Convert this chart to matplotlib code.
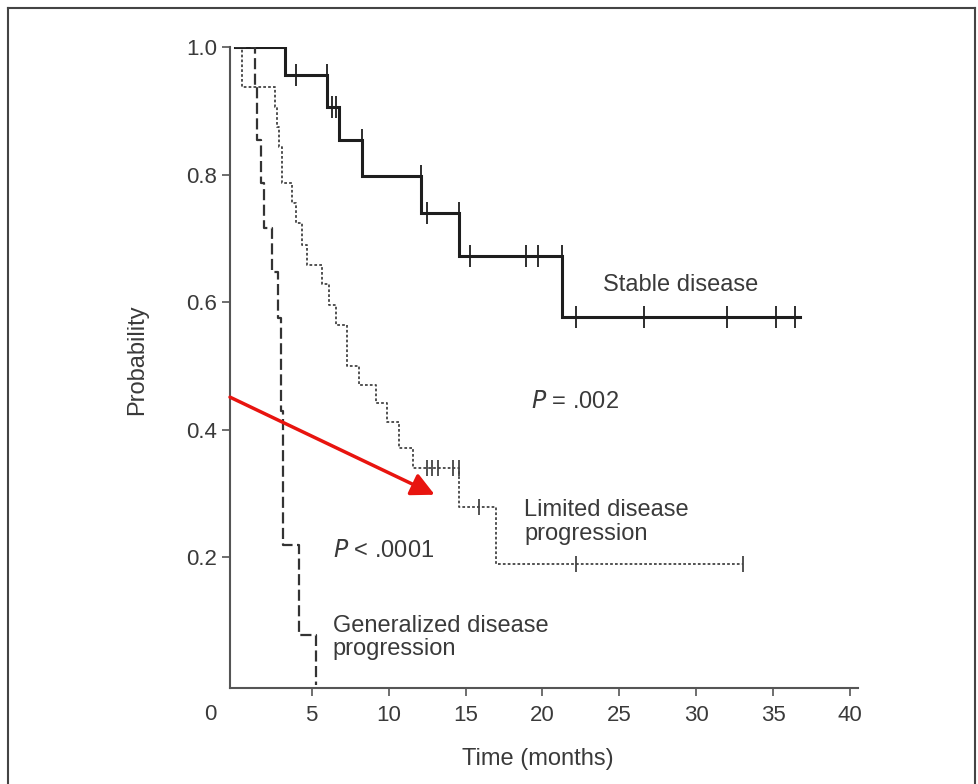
import numpy as np
import matplotlib
matplotlib.use("Agg")
import matplotlib.pyplot as plt
from matplotlib.lines import Line2D

# Kaplan-Meier step data (time in months, survival probability)
stable_t = [0, 3.3, 6.0, 6.8, 8.3, 12.1, 14.6, 21.3]
stable_s = [1.0, 0.956, 0.906, 0.854, 0.798, 0.740, 0.672, 0.577]
stable_end = 36.7
stable_censor = [3.3, 4.0, 6.0, 6.3, 6.6, 8.3, 12.1, 12.5, 14.6, 15.3, 18.9, 19.7,
                 21.3, 22.2, 26.6, 32.0, 35.2, 36.4]

limited_t = [0, 0.45, 2.6, 2.75, 2.9, 3.1, 3.7, 4.0, 4.4, 4.7, 5.7, 6.1, 6.6, 7.3,
             8.1, 9.2, 9.9, 10.7, 11.6, 14.6, 17.0]
limited_s = [1.0, 0.937, 0.906, 0.874, 0.843, 0.787, 0.756, 0.724, 0.69, 0.658,
             0.629, 0.596, 0.564, 0.50, 0.47, 0.442, 0.412, 0.371, 0.34, 0.279, 0.19]
limited_end = 33.0
limited_censor = [12.5, 12.8, 13.2, 14.2, 14.6, 15.9, 22.2, 33.0]

general_t = [0, 1.3, 1.45, 1.7, 1.9, 2.4, 2.85, 3.0, 3.15, 4.2, 5.3]
general_s = [1.0, 0.937, 0.854, 0.787, 0.716, 0.647, 0.575, 0.43, 0.219, 0.078, 0.0]
general_end = 5.3

x_ticks = [5, 10, 15, 20, 25, 30, 35, 40]
y_ticks = [0.2, 0.4, 0.6, 0.8, 1.0]

ink = "#3a3a3a"
plt.rcParams['font.family'] = ['Liberation Sans', 'DejaVu Sans']


def surv_at(times, surv, t):
    # value of the curve just before time t (so drop-time censors sit on the upper level)
    i = np.searchsorted(times, t, side='left') - 1
    return surv[max(i, 0)]


def draw_km(ax, times, surv, end, censor, msize, **kw):
    xs = list(times) + [end]
    ys = list(surv) + [surv[-1]]
    ax.step(xs, ys, where='post', **kw)
    if censor:
        cy = [surv_at(times, surv, c) for c in censor]
        ax.plot(censor, cy, linestyle='none', marker='|', markersize=msize,
                markeredgewidth=1.3, color=kw.get('color', 'k'))


fig = plt.figure(figsize=(9.79, 7.84), dpi=100)
ax = fig.add_axes([230 / 979, 96 / 784, 628 / 979, 641 / 784])

draw_km(ax, stable_t, stable_s, stable_end, stable_censor, 16,
        color="#1e1e1e", lw=2.2, solid_joinstyle='miter')
draw_km(ax, limited_t, limited_s, limited_end, limited_censor, 11,
        color="#444444", lw=1.3, linestyle=(0, (1.5, 1.2)))
draw_km(ax, general_t, general_s, general_end, [], 0,
        color="#333333", lw=1.6, linestyle=(0, (5, 2)))

ax.set_xlim(-0.3, 40.5)
ax.set_ylim(-0.005, 1.0)
ax.set_xticks(x_ticks)
ax.set_yticks(y_ticks)
ax.set_yticklabels([f"{v:.1f}" for v in y_ticks])
for side in ['top', 'right']:
    ax.spines[side].set_visible(False)
for side in ['left', 'bottom']:
    ax.spines[side].set_color("#555555")
    ax.spines[side].set_linewidth(1.5)
ax.tick_params(axis='both', direction='out', length=6, width=1.2, color="#555555",
               labelsize=16, labelcolor=ink)
ax.tick_params(axis='x', pad=6)
ax.tick_params(axis='y', pad=3)

ax.text(-1.6, -0.047, "0", fontsize=16, color=ink, ha='center', va='center', clip_on=False)

ax.set_ylabel("Probability", fontsize=17, color=ink)
ax.yaxis.set_label_coords(-0.13, 0.512)
ax.set_xlabel("Time (months)", fontsize=17, color=ink)
ax.xaxis.set_label_coords(0.49, -0.094)

ax.text(29.0, 0.627, "Stable disease", fontsize=17, color=ink, ha='center', va='center')
ax.text(22.1, 0.443, r"$\it{P}$ = .002", fontsize=17, color=ink, ha='center', va='center')
ax.text(18.8, 0.255, "Limited disease\nprogression", fontsize=17, color=ink,
        ha='left', va='center', linespacing=1.1)
ax.text(6.36, 0.21, r"$\it{P}$ < .0001", fontsize=17, color=ink, ha='left', va='center')
ax.text(6.36, 0.074, "Generalized disease\nprogression", fontsize=17, color=ink,
        ha='left', va='center', linespacing=1.1)

ax.annotate('', xy=(13.0, 0.298), xytext=(-0.3, 0.451), annotation_clip=False,
            arrowprops=dict(arrowstyle='-|>,head_length=0.7,head_width=0.35',
                            mutation_scale=20, color="#e8140f", lw=2.5,
                            shrinkA=0, shrinkB=0))

# outer frame of the scanned figure
for xs, ys in [([8 / 979, 8 / 979], [0, 1 - 8 / 784]),
               ([8 / 979, 975 / 979], [1 - 8 / 784, 1 - 8 / 784]),
               ([975 / 979, 975 / 979], [0, 1 - 8 / 784])]:
    fig.add_artist(Line2D(xs, ys, transform=fig.transFigure, color="#444444", lw=1.5))

fig.savefig("out.png", dpi=100)
